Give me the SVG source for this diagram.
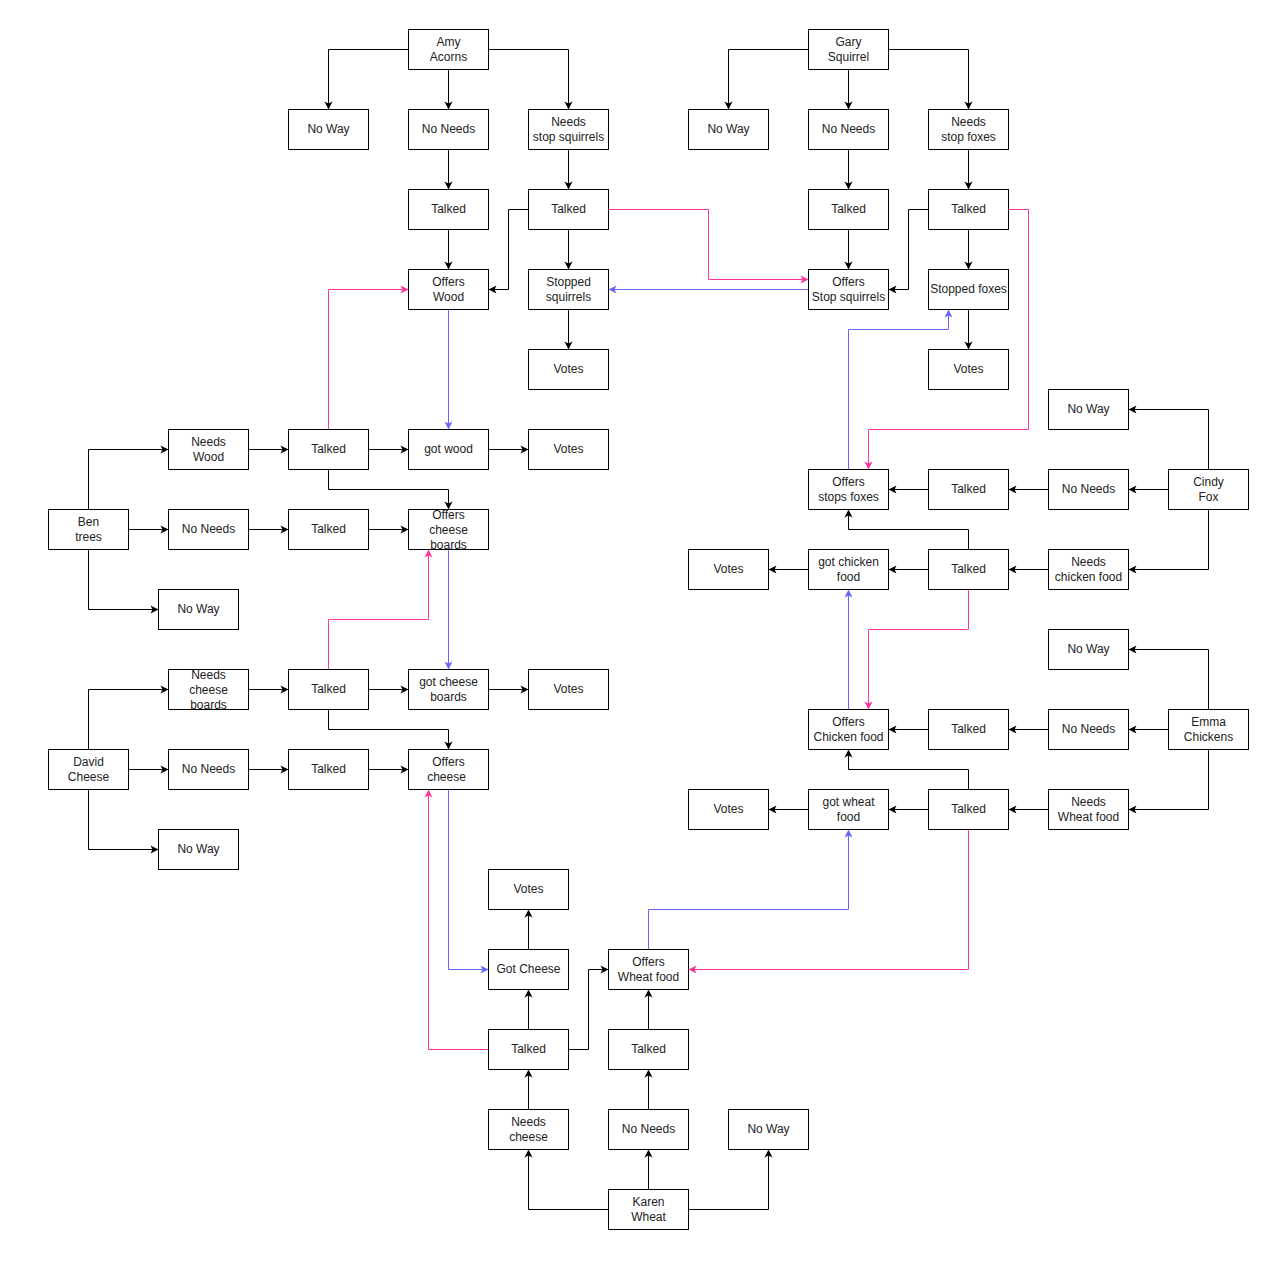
<svg xmlns="http://www.w3.org/2000/svg" width="1285" height="1265" viewBox="0 0 1285 1265">
<style>
.n rect{fill:#fff;stroke:#000;stroke-width:1}
text{font-family:"Liberation Sans",Arial,Helvetica,sans-serif;font-size:12px;fill:#222;text-anchor:middle;dominant-baseline:central;transform:translate(0px,-1px)}
text.m{transform:none}
.c path{fill:none;stroke-width:1}
.c .k{stroke:#000;marker-end:url(#mk)}
.c .p{stroke:#FF3399;marker-end:url(#mp)}
.c .b{stroke:#6666FF;marker-end:url(#mb)}
</style>
<defs>
<marker id="mk" viewBox="-9 -5 10 10" refX="0" refY="0" markerWidth="10" markerHeight="10" markerUnits="userSpaceOnUse" orient="auto"><path d="M-8,-4 L0,0 L-8,4 L-6,0 Z" fill="#000"/></marker>
<marker id="mp" viewBox="-9 -5 10 10" refX="0" refY="0" markerWidth="10" markerHeight="10" markerUnits="userSpaceOnUse" orient="auto"><path d="M-8,-4 L0,0 L-8,4 L-6,0 Z" fill="#FF3399"/></marker>
<marker id="mb" viewBox="-9 -5 10 10" refX="0" refY="0" markerWidth="10" markerHeight="10" markerUnits="userSpaceOnUse" orient="auto"><path d="M-8,-4 L0,0 L-8,4 L-6,0 Z" fill="#6666FF"/></marker>
</defs>
<rect x="0" y="0" width="1285" height="1265" fill="#fff"/>
<g transform="translate(0.5,0.5)">
<g id="connectors" class="c">
<!-- Amy -->
<path class="k" d="M408,49 H328 V109"/>
<path class="k" d="M448,69 V109"/>
<path class="k" d="M488,49 H568 V109"/>
<path class="k" d="M448,149 V189"/>
<path class="k" d="M568,149 V189"/>
<path class="k" d="M448,229 V269"/>
<path class="k" d="M528,209 H508 V289 H488"/>
<path class="k" d="M568,229 V269"/>
<path class="k" d="M568,309 V349"/>
<path class="p" d="M608,209 H708 V279 H808"/>
<path class="b" d="M808,289 H608"/>
<path class="b" d="M448,309 V429"/>
<path class="p" d="M328,429 V289 H408"/>
<!-- Gary -->
<path class="k" d="M808,49 H728 V109"/>
<path class="k" d="M848,69 V109"/>
<path class="k" d="M888,49 H968 V109"/>
<path class="k" d="M848,149 V189"/>
<path class="k" d="M968,149 V189"/>
<path class="k" d="M848,229 V269"/>
<path class="k" d="M928,209 H908 V289 H888"/>
<path class="k" d="M968,229 V269"/>
<path class="k" d="M968,309 V349"/>
<path class="p" d="M1008,209 H1028 V429 H868 V469"/>
<path class="b" d="M848,469 V329 H948 V309"/>
<!-- Ben -->
<path class="k" d="M88,509 V449 H168"/>
<path class="k" d="M128,529 H168"/>
<path class="k" d="M88,549 V609 H158"/>
<path class="k" d="M248,449 H288"/>
<path class="k" d="M368,449 H408"/>
<path class="k" d="M488,449 H528"/>
<path class="k" d="M328,469 V489 H448 V509"/>
<path class="k" d="M248,529 H288"/>
<path class="k" d="M368,529 H408"/>
<path class="b" d="M448,549 V669"/>
<path class="p" d="M328,669 V619 H428 V549"/>
<!-- David -->
<path class="k" d="M88,749 V689 H168"/>
<path class="k" d="M128,769 H168"/>
<path class="k" d="M88,789 V849 H158"/>
<path class="k" d="M248,689 H288"/>
<path class="k" d="M368,689 H408"/>
<path class="k" d="M488,689 H528"/>
<path class="k" d="M328,709 V729 H448 V749"/>
<path class="k" d="M248,769 H288"/>
<path class="k" d="M368,769 H408"/>
<path class="b" d="M448,789 V969 H488"/>
<path class="p" d="M488,1049 H428 V789"/>
<!-- Karen -->
<path class="k" d="M608,1209 H528 V1149"/>
<path class="k" d="M648,1189 V1149"/>
<path class="k" d="M688,1209 H768 V1149"/>
<path class="k" d="M528,1109 V1069"/>
<path class="k" d="M648,1109 V1069"/>
<path class="k" d="M528,1029 V989"/>
<path class="k" d="M568,1049 H588 V969 H608"/>
<path class="k" d="M648,1029 V989"/>
<path class="k" d="M528,949 V909"/>
<path class="b" d="M648,949 V909 H848 V829"/>
<path class="p" d="M968,829 V969 H688"/>
<!-- Cindy -->
<path class="k" d="M1208,469 V409 H1128"/>
<path class="k" d="M1168,489 H1128"/>
<path class="k" d="M1208,509 V569 H1128"/>
<path class="k" d="M1048,489 H1008"/>
<path class="k" d="M928,489 H888"/>
<path class="k" d="M1048,569 H1008"/>
<path class="k" d="M928,569 H888"/>
<path class="k" d="M808,569 H768"/>
<path class="k" d="M968,549 V529 H848 V509"/>
<path class="p" d="M968,589 V629 H868 V709"/>
<path class="b" d="M848,709 V589"/>
<!-- Emma -->
<path class="k" d="M1208,709 V649 H1128"/>
<path class="k" d="M1168,729 H1128"/>
<path class="k" d="M1208,749 V809 H1128"/>
<path class="k" d="M1048,729 H1008"/>
<path class="k" d="M928,729 H888"/>
<path class="k" d="M1048,809 H1008"/>
<path class="k" d="M928,809 H888"/>
<path class="k" d="M808,809 H768"/>
<path class="k" d="M968,789 V769 H848 V749"/>
</g>

<!-- Amy nodes -->
<g id="amy" class="n"><rect x="408" y="29" width="80" height="40"/><text class="m" x="448" y="49"><tspan x="448" dy="-7.5">Amy</tspan><tspan x="448" dy="15">Acorns</tspan></text></g>
<g id="amy-noway" class="n"><rect x="288" y="109" width="80" height="40"/><text x="328" y="129">No Way</text></g>
<g id="amy-noneeds" class="n"><rect x="408" y="109" width="80" height="40"/><text x="448" y="129">No Needs</text></g>
<g id="amy-needs" class="n"><rect x="528" y="109" width="80" height="40"/><text class="m" x="568" y="129"><tspan x="568" dy="-7.5">Needs</tspan><tspan x="568" dy="15">stop squirrels</tspan></text></g>
<g id="amy-talked1" class="n"><rect x="408" y="189" width="80" height="40"/><text x="448" y="209">Talked</text></g>
<g id="amy-talked2" class="n"><rect x="528" y="189" width="80" height="40"/><text x="568" y="209">Talked</text></g>
<g id="amy-offers" class="n"><rect x="408" y="269" width="80" height="40"/><text class="m" x="448" y="289"><tspan x="448" dy="-7.5">Offers</tspan><tspan x="448" dy="15">Wood</tspan></text></g>
<g id="amy-stopped" class="n"><rect x="528" y="269" width="80" height="40"/><text class="m" x="568" y="289"><tspan x="568" dy="-7.5">Stopped</tspan><tspan x="568" dy="15">squirrels</tspan></text></g>
<g id="amy-votes" class="n"><rect x="528" y="349" width="80" height="40"/><text x="568" y="369">Votes</text></g>

<!-- Gary nodes -->
<g id="gary" class="n"><rect x="808" y="29" width="80" height="40"/><text class="m" x="848" y="49"><tspan x="848" dy="-7.5">Gary</tspan><tspan x="848" dy="15">Squirrel</tspan></text></g>
<g id="gary-noway" class="n"><rect x="688" y="109" width="80" height="40"/><text x="728" y="129">No Way</text></g>
<g id="gary-noneeds" class="n"><rect x="808" y="109" width="80" height="40"/><text x="848" y="129">No Needs</text></g>
<g id="gary-needs" class="n"><rect x="928" y="109" width="80" height="40"/><text class="m" x="968" y="129"><tspan x="968" dy="-7.5">Needs</tspan><tspan x="968" dy="15">stop foxes</tspan></text></g>
<g id="gary-talked1" class="n"><rect x="808" y="189" width="80" height="40"/><text x="848" y="209">Talked</text></g>
<g id="gary-talked2" class="n"><rect x="928" y="189" width="80" height="40"/><text x="968" y="209">Talked</text></g>
<g id="gary-offers" class="n"><rect x="808" y="269" width="80" height="40"/><text class="m" x="848" y="289"><tspan x="848" dy="-7.5">Offers</tspan><tspan x="848" dy="15">Stop squirrels</tspan></text></g>
<g id="gary-stopped" class="n"><rect x="928" y="269" width="80" height="40"/><text x="968" y="289">Stopped foxes</text></g>
<g id="gary-votes" class="n"><rect x="928" y="349" width="80" height="40"/><text x="968" y="369">Votes</text></g>

<!-- Ben nodes -->
<g id="ben" class="n"><rect x="48" y="509" width="80" height="40"/><text class="m" x="88" y="529"><tspan x="88" dy="-7.5">Ben</tspan><tspan x="88" dy="15">trees</tspan></text></g>
<g id="ben-needs" class="n"><rect x="168" y="429" width="80" height="40"/><text class="m" x="208" y="449"><tspan x="208" dy="-7.5">Needs</tspan><tspan x="208" dy="15">Wood</tspan></text></g>
<g id="ben-talked1" class="n"><rect x="288" y="429" width="80" height="40"/><text x="328" y="449">Talked</text></g>
<g id="ben-got" class="n"><rect x="408" y="429" width="80" height="40"/><text x="448" y="449">got wood</text></g>
<g id="ben-votes" class="n"><rect x="528" y="429" width="80" height="40"/><text x="568" y="449">Votes</text></g>
<g id="ben-noneeds" class="n"><rect x="168" y="509" width="80" height="40"/><text x="208" y="529">No Needs</text></g>
<g id="ben-talked2" class="n"><rect x="288" y="509" width="80" height="40"/><text x="328" y="529">Talked</text></g>
<g id="ben-offers" class="n"><rect x="408" y="509" width="80" height="40"/><text class="m" x="448" y="529"><tspan x="448" dy="-15">Offers</tspan><tspan x="448" dy="15">cheese</tspan><tspan x="448" dy="15">boards</tspan></text></g>
<g id="ben-noway" class="n"><rect x="158" y="589" width="80" height="40"/><text x="198" y="609">No Way</text></g>

<!-- David nodes -->
<g id="david" class="n"><rect x="48" y="749" width="80" height="40"/><text class="m" x="88" y="769"><tspan x="88" dy="-7.5">David</tspan><tspan x="88" dy="15">Cheese</tspan></text></g>
<g id="david-needs" class="n"><rect x="168" y="669" width="80" height="40"/><text class="m" x="208" y="689"><tspan x="208" dy="-15">Needs</tspan><tspan x="208" dy="15">cheese</tspan><tspan x="208" dy="15">boards</tspan></text></g>
<g id="david-talked1" class="n"><rect x="288" y="669" width="80" height="40"/><text x="328" y="689">Talked</text></g>
<g id="david-got" class="n"><rect x="408" y="669" width="80" height="40"/><text class="m" x="448" y="689"><tspan x="448" dy="-7.5">got cheese</tspan><tspan x="448" dy="15">boards</tspan></text></g>
<g id="david-votes" class="n"><rect x="528" y="669" width="80" height="40"/><text x="568" y="689">Votes</text></g>
<g id="david-noneeds" class="n"><rect x="168" y="749" width="80" height="40"/><text x="208" y="769">No Needs</text></g>
<g id="david-talked2" class="n"><rect x="288" y="749" width="80" height="40"/><text x="328" y="769">Talked</text></g>
<g id="david-offers" class="n"><rect x="408" y="749" width="80" height="40"/><text class="m" x="447" y="769"><tspan x="448" dy="-7.5">Offers</tspan><tspan x="446" dy="15">cheese</tspan></text></g>
<g id="david-noway" class="n"><rect x="158" y="829" width="80" height="40"/><text x="198" y="849">No Way</text></g>

<!-- Cindy nodes -->
<g id="cindy" class="n"><rect x="1168" y="469" width="80" height="40"/><text class="m" x="1208" y="489"><tspan x="1208" dy="-7.5">Cindy</tspan><tspan x="1208" dy="15">Fox</tspan></text></g>
<g id="cindy-noway" class="n"><rect x="1048" y="389" width="80" height="40"/><text x="1088" y="409">No Way</text></g>
<g id="cindy-noneeds" class="n"><rect x="1048" y="469" width="80" height="40"/><text x="1088" y="489">No Needs</text></g>
<g id="cindy-talked1" class="n"><rect x="928" y="469" width="80" height="40"/><text x="968" y="489">Talked</text></g>
<g id="cindy-offers" class="n"><rect x="808" y="469" width="80" height="40"/><text class="m" x="848" y="489"><tspan x="848" dy="-7.5">Offers</tspan><tspan x="848" dy="15">stops foxes</tspan></text></g>
<g id="cindy-needs" class="n"><rect x="1048" y="549" width="80" height="40"/><text class="m" x="1088" y="569"><tspan x="1088" dy="-7.5">Needs</tspan><tspan x="1088" dy="15">chicken food</tspan></text></g>
<g id="cindy-talked2" class="n"><rect x="928" y="549" width="80" height="40"/><text x="968" y="569">Talked</text></g>
<g id="cindy-got" class="n"><rect x="808" y="549" width="80" height="40"/><text class="m" x="848" y="569"><tspan x="848" dy="-7.5">got chicken</tspan><tspan x="848" dy="15">food</tspan></text></g>
<g id="cindy-votes" class="n"><rect x="688" y="549" width="80" height="40"/><text x="728" y="569">Votes</text></g>

<!-- Emma nodes -->
<g id="emma" class="n"><rect x="1168" y="709" width="80" height="40"/><text class="m" x="1208" y="729"><tspan x="1208" dy="-7.5">Emma</tspan><tspan x="1208" dy="15">Chickens</tspan></text></g>
<g id="emma-noway" class="n"><rect x="1048" y="629" width="80" height="40"/><text x="1088" y="649">No Way</text></g>
<g id="emma-noneeds" class="n"><rect x="1048" y="709" width="80" height="40"/><text x="1088" y="729">No Needs</text></g>
<g id="emma-talked1" class="n"><rect x="928" y="709" width="80" height="40"/><text x="968" y="729">Talked</text></g>
<g id="emma-offers" class="n"><rect x="808" y="709" width="80" height="40"/><text class="m" x="848" y="729"><tspan x="848" dy="-7.5">Offers</tspan><tspan x="848" dy="15">Chicken food</tspan></text></g>
<g id="emma-needs" class="n"><rect x="1048" y="789" width="80" height="40"/><text class="m" x="1088" y="809"><tspan x="1088" dy="-7.5">Needs</tspan><tspan x="1088" dy="15">Wheat food</tspan></text></g>
<g id="emma-talked2" class="n"><rect x="928" y="789" width="80" height="40"/><text x="968" y="809">Talked</text></g>
<g id="emma-got" class="n"><rect x="808" y="789" width="80" height="40"/><text class="m" x="848" y="809"><tspan x="848" dy="-7.5">got wheat</tspan><tspan x="848" dy="15">food</tspan></text></g>
<g id="emma-votes" class="n"><rect x="688" y="789" width="80" height="40"/><text x="728" y="809">Votes</text></g>

<!-- Karen nodes -->
<g id="karen" class="n"><rect x="608" y="1189" width="80" height="40"/><text class="m" x="648" y="1209"><tspan x="648" dy="-7.5">Karen</tspan><tspan x="648" dy="15">Wheat</tspan></text></g>
<g id="karen-needs" class="n"><rect x="488" y="1109" width="80" height="40"/><text class="m" x="528" y="1129"><tspan x="528" dy="-7.5">Needs</tspan><tspan x="528" dy="15">cheese</tspan></text></g>
<g id="karen-noneeds" class="n"><rect x="608" y="1109" width="80" height="40"/><text x="648" y="1129">No Needs</text></g>
<g id="karen-noway" class="n"><rect x="728" y="1109" width="80" height="40"/><text x="768" y="1129">No Way</text></g>
<g id="karen-talked1" class="n"><rect x="488" y="1029" width="80" height="40"/><text x="528" y="1049">Talked</text></g>
<g id="karen-talked2" class="n"><rect x="608" y="1029" width="80" height="40"/><text x="648" y="1049">Talked</text></g>
<g id="karen-got" class="n"><rect x="488" y="949" width="80" height="40"/><text x="528" y="969">Got Cheese</text></g>
<g id="karen-offers" class="n"><rect x="608" y="949" width="80" height="40"/><text class="m" x="648" y="969"><tspan x="648" dy="-7.5">Offers</tspan><tspan x="648" dy="15">Wheat food</tspan></text></g>
<g id="karen-votes" class="n"><rect x="488" y="869" width="80" height="40"/><text x="528" y="889">Votes</text></g>
</g>
</svg>
